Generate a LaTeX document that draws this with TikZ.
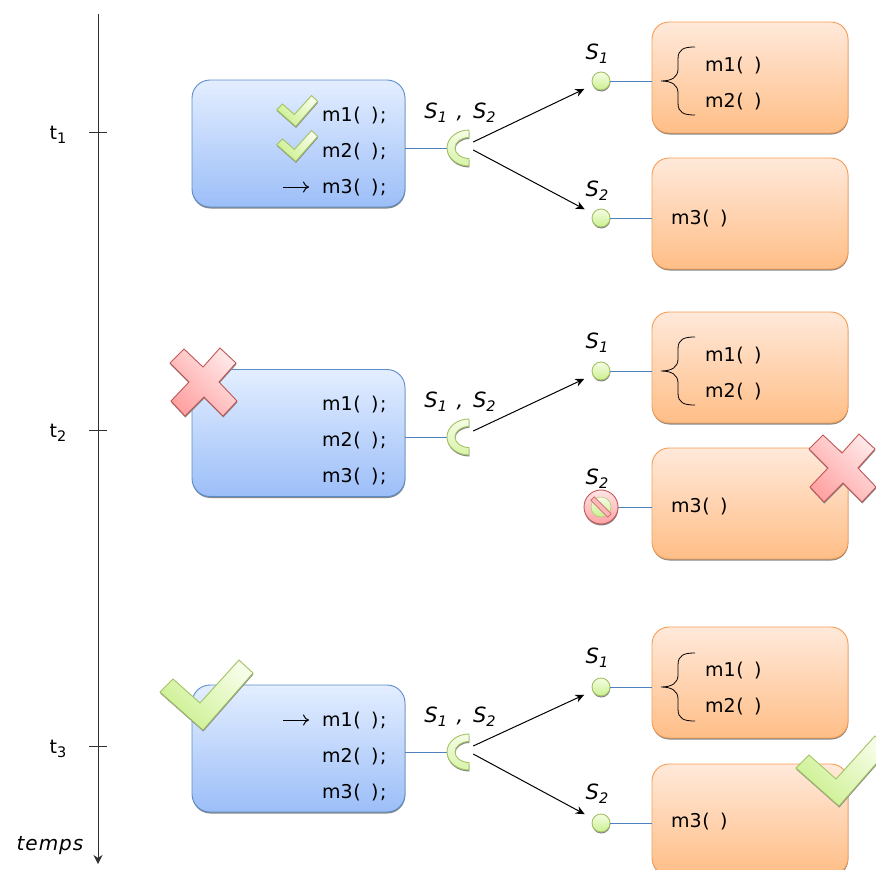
\documentclass[tikz,border=0pt]{standalone}
\usepackage{fontspec}
\setmainfont{DejaVu Sans}
\usetikzlibrary{positioning,shadows,arrows.meta}

\definecolor{linkblue}{HTML}{4F81BD}
\definecolor{axisgray}{HTML}{303030}
\definecolor{blueedge}{HTML}{5C8DC8}
\definecolor{bluetop}{HTML}{E3EEFF}
\definecolor{bluelow}{HTML}{9CBEF8}
\definecolor{orangeedge}{HTML}{F79C52}
\definecolor{orangetop}{HTML}{FFE9DA}
\definecolor{orangelow}{HTML}{FFBE87}
\definecolor{greenedge}{HTML}{A3C266}
\definecolor{greentop}{HTML}{F6FDE6}
\definecolor{greenlow}{HTML}{CBF08E}
\definecolor{rededge}{HTML}{C0585A}
\definecolor{redtop}{HTML}{FFE6E6}
\definecolor{redlow}{HTML}{FFA3A3}

\tikzset{
    softshadow/.style={copy shadow={shadow xshift=0.3pt,shadow yshift=-1.5pt,draw=none,fill=gray!95}},
    clientbox/.style={draw=blueedge,line width=0.9pt,rectangle,rounded corners=18pt,minimum width=213pt,minimum height=127pt,top color=bluetop,bottom color=bluelow,softshadow},
    serverbox/.style={draw=orangeedge,line width=0.9pt,rectangle,rounded corners=17pt,minimum width=196pt,minimum height=111pt,top color=orangetop,bottom color=orangelow,softshadow},
    dot/.style={circle,draw=greenedge,line width=0.9pt,minimum size=18pt,inner sep=0pt,top color=greentop,bottom color=greenlow,softshadow},
    nogo/.style={circle,draw=rededge,line width=0.9pt,minimum size=34pt,inner sep=0pt,top color=redtop,bottom color=redlow,softshadow},
    socketbox/.style={rectangle,minimum width=22pt,minimum height=36pt,inner sep=0pt},
    txt/.style={anchor=base west,inner sep=0pt,font=\fontsize{19}{21}\selectfont},
    label/.style={anchor=base,inner sep=0pt,font=\fontsize{21}{23}\selectfont\itshape},
    link/.style={draw=linkblue,line width=0.9pt},
    request/.style={-{Stealth[length=9pt,width=8pt]},black,line width=1pt},
    pointer/.style={-{To[length=6pt,width=11pt]},black,line width=1pt},
    curly/.style={black,line width=0.8pt}
}

\newcommand{\mcall}[1]{#1\kern0.5pt(\kern10.5pt)}
\newcommand{\mstmt}[1]{\mcall{#1}\kern1.5pt;}
\newcommand{\lowidx}[1]{\raisebox{-4pt}{\fontsize{14.5}{15}\selectfont #1}}
\newcommand{\bothsvc}{S\lowidx{1}\kern3pt{} , \kern3pt S\lowidx{2}}

% check mark, tick at its centre
\newcommand{\tickmark}[3]{
    \begin{scope}[shift={(#1,#2)},scale=#3]
        \path[draw=greenedge,line width=0.9pt,top color=greentop,bottom color=greenlow,shading angle=-45,softshadow]
            (-46,-3) -- (-33,-16) -- (-6,8) -- (33,-35) -- (47,-22) -- (-3,35) -- cycle;
    \end{scope}
}
% red cross
\newcommand{\crossmark}[2]{
    \begin{scope}[shift={(#1,#2)}]
        \path[draw=rededge,line width=0.9pt,top color=redtop,bottom color=redlow,shading angle=-45,softshadow]
            (-19,-33) -- (-33,-19) -- (-14,0) -- (-32,19) -- (-18,34) -- (1,15) -- (20,34) -- (34,19) -- (16,0) -- (33,-19) -- (17,-34) -- (0,-15) -- cycle;
    \end{scope}
}
% half ring, open to the right
\newcommand{\socket}[1]{
    \path[draw=greenedge,line width=0.9pt,top color=greentop,bottom color=greenlow!70!greentop,softshadow]
        ([shift={(11,-18)}]#1.center) arc[start angle=90,end angle=270,x radius=22pt,y radius=18pt]
        -- ([shift={(11,10.5)}]#1.center) arc[start angle=270,end angle=90,x radius=14pt,y radius=10.5pt] -- cycle;
}
% brace left of two calls, tip on the given height
\newcommand{\callbrace}[1]{
    \draw[curly] (695,#1-34) .. controls (684,#1-34) and (678,#1-32) .. (678,#1-22)
        -- (678,#1-12) .. controls (678,#1-4) and (672,#1) .. (661,#1)
        .. controls (672,#1) and (678,#1+4) .. (678,#1+12)
        -- (678,#1+22) .. controls (678,#1+32) and (684,#1+34) .. (695,#1+34);
}

\begin{document}
\begin{tikzpicture}[x=1pt,y=-1pt]
    \useasboundingbox (0,0) rectangle (876,870);
    \clip (0,0) rectangle (876,870);

    % Time axis
    \coordinate (axisTop) at (98,14);
    \coordinate (axisEnd) at (98,864);
    \draw[-{Stealth[length=9pt,width=9pt]},axisgray,line width=1pt] (axisTop) -- (axisEnd);
    \node[txt,anchor=base] (tOne) at (58,139) {t\lowidx{1}};
    \node[txt,anchor=base] (tTwo) at (58,437) {t\lowidx{2}};
    \node[txt,anchor=base] (tThree) at (58,753) {t\lowidx{3}};
    \coordinate (tickOne) at (98,132);
    \coordinate (tickTwo) at (98,430);
    \coordinate (tickThree) at (98,746);
    \draw[axisgray,line width=0.8pt] ([xshift=-9pt]tickOne) -- ([xshift=9pt]tickOne);
    \draw[axisgray,line width=0.8pt] ([xshift=-9pt]tickTwo) -- ([xshift=9pt]tickTwo);
    \draw[axisgray,line width=0.8pt] ([xshift=-9pt]tickThree) -- ([xshift=9pt]tickThree);
    \node[label,font=\fontsize{20}{22}\selectfont\itshape\addfontfeatures{LetterSpace=5}] (temps) at (50,850) {temps};

    % First moment
    \node[clientbox] (clientA) at (298.5,143.5) {};
    \node[socketbox] (sockA) at (458,148) {};
    \draw[link] (sockA.west -| clientA.east) -- (sockA.west);
    \socket{sockA}
    \node[txt] (mA1) at (322,121) {\mstmt{m1}};
    \node[txt] (mA2) at (322,157) {\mstmt{m2}};
    \node[txt] (mA3) at (322,193) {\mstmt{m3}};
    \tickmark{297}{111}{0.44}
    \tickmark{297}{146}{0.44}
    \draw[pointer] ([xshift=-39pt]mA3.west) -- ([xshift=-13pt]mA3.west);
    \node[label] (sockLabelA) at (460,118) {\bothsvc};
    \node[serverbox] (srvA1) at (750,77.5) {};
    \node[serverbox] (srvA2) at (750,213.5) {};
    \node[dot] (dotA1) at (601,81) {};
    \node[dot] (dotA2) at (601,218) {};
    \draw[link] (dotA1) -- (dotA1 -| srvA1.west);
    \draw[link] (dotA2) -- (dotA2 -| srvA2.west);
    \draw[request,shorten >=9pt] ([shift={(4,-6)}]sockA.east) -- (dotA1);
    \draw[request,shorten >=9pt] ([shift={(4,2)}]sockA.east) -- (dotA2);
    \node[label] (dotLabelA1) at (597,59) {S\lowidx{1}};
    \node[label] (dotLabelA2) at (597,196) {S\lowidx{2}};
    \callbrace{81}
    \node[txt] (cA1) at (705,71) {\mcall{m1}};
    \node[txt] (cA2) at (705,107) {\mcall{m2}};
    \node[txt] (cA3) at (671,224) {\mcall{m3}};

    % Second moment
    \node[clientbox] (clientB) at (298.5,433) {};
    \node[socketbox] (sockB) at (458,437) {};
    \draw[link] (sockB.west -| clientB.east) -- (sockB.west);
    \socket{sockB}
    \node[txt] (mB1) at (322,410) {\mstmt{m1}};
    \node[txt] (mB2) at (322,446) {\mstmt{m2}};
    \node[txt] (mB3) at (322,482) {\mstmt{m3}};
    \crossmark{203}{382}
    \node[label] (sockLabelB) at (460,407) {\bothsvc};
    \node[serverbox] (srvB1) at (750,367.5) {};
    \node[serverbox] (srvB2) at (750,503.5) {};
    \node[dot] (dotB1) at (601,371) {};
    \node[nogo] (dotB2) at (601,507) {};
    \draw[link] (dotB1) -- (dotB1 -| srvB1.west);
    \draw[link] (dotB2) -- (dotB2 -| srvB2.west);
    \draw[greenedge,top color=greentop,bottom color=greenlow] (dotB2.center) circle[radius=10pt];
    \draw[rededge,fill=redlow!70!redtop,line width=0.6pt,rotate around={-45:(dotB2.center)}] ([shift={(-12,-2.5)}]dotB2.center) rectangle ([shift={(12,2.5)}]dotB2.center);
    \draw[request,shorten >=9pt] ([shift={(4,-6)}]sockB.east) -- (dotB1);
    \node[label] (dotLabelB1) at (597,348) {S\lowidx{1}};
    \node[label] (dotLabelB2) at (597,484) {S\lowidx{2}};
    \callbrace{371}
    \node[txt] (cB1) at (705,361) {\mcall{m1}};
    \node[txt] (cB2) at (705,397) {\mcall{m2}};
    \node[txt] (cB3) at (671,512) {\mcall{m3}};
    \crossmark{842}{468}

    % Third moment
    \node[clientbox] (clientC) at (298.5,748.5) {};
    \node[socketbox] (sockC) at (458,752) {};
    \draw[link] (sockC.west -| clientC.east) -- (sockC.west);
    \socket{sockC}
    \node[txt] (mC1) at (322,726) {\mstmt{m1}};
    \node[txt] (mC2) at (322,762) {\mstmt{m2}};
    \node[txt] (mC3) at (322,798) {\mstmt{m3}};
    \draw[pointer] ([xshift=-39pt]mC1.west) -- ([xshift=-13pt]mC1.west);
    \tickmark{206}{695}{1}
    \node[label] (sockLabelC) at (460,722) {\bothsvc};
    \node[serverbox] (srvC1) at (750,682.5) {};
    \node[serverbox] (srvC2) at (750,819.5) {};
    \node[dot] (dotC1) at (601,687) {};
    \node[dot] (dotC2) at (601,823) {};
    \draw[link] (dotC1) -- (dotC1 -| srvC1.west);
    \draw[link] (dotC2) -- (dotC2 -| srvC2.west);
    \draw[request,shorten >=9pt] ([shift={(4,-6)}]sockC.east) -- (dotC1);
    \draw[request,shorten >=9pt] ([shift={(4,2)}]sockC.east) -- (dotC2);
    \node[label] (dotLabelC1) at (597,663) {S\lowidx{1}};
    \node[label] (dotLabelC2) at (597,799) {S\lowidx{2}};
    \callbrace{687}
    \node[txt] (cC1) at (705,676) {\mcall{m1}};
    \node[txt] (cC2) at (705,712) {\mcall{m2}};
    \node[txt] (cC3) at (671,827) {\mcall{m3}};
    \tickmark{842}{771}{1}
\end{tikzpicture}
\end{document}
